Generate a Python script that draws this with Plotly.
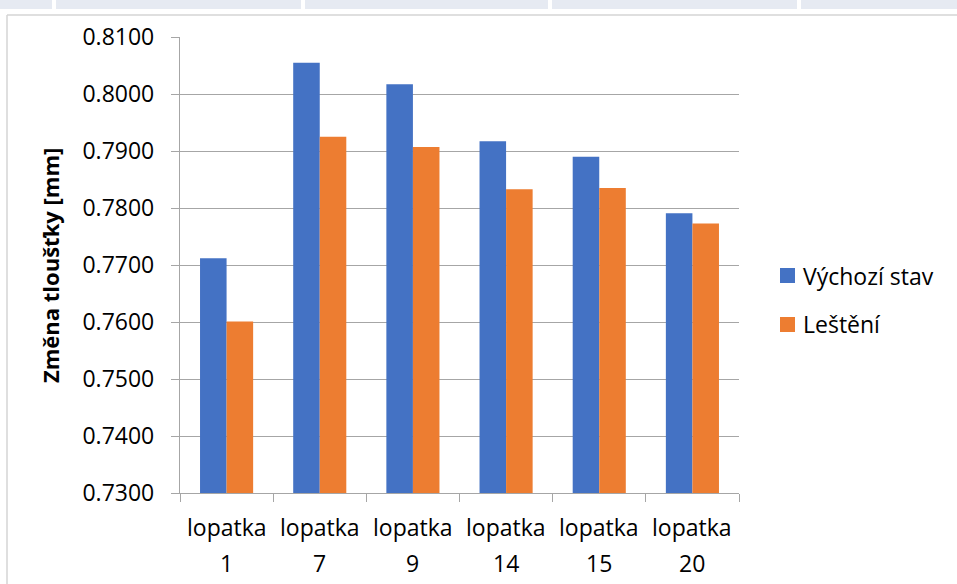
import plotly.graph_objects as go

# Blade thickness data (mm)
blades = ["1", "7", "9", "14", "15", "20"]
blade_word = "lopatka"
categories = [f"{blade_word} {b}" for b in blades]
series_names = ["Výchozí stav", "Leštění"]
initial_state = [0.7712, 0.8055, 0.8017, 0.7917, 0.7890, 0.7791]
polished = [0.7601, 0.7925, 0.7907, 0.7833, 0.7835, 0.7773]
series_colors = ["#4472C4", "#ED7D31"]
y_title = "Změna tloušťky [mm]"

W, H = 957, 584
ML, MR, MT, MB = 180, 218, 37, 91
PW, PH = W - ML - MR, H - MT - MB
FONT = "Open Sans"
FS = 23
GRID = "#a6a6a6"


def px(xp):
    return (xp - ML) / PW


def py(yp):
    return (H - MB - yp) / PH


fig = go.Figure()
for name, vals, col in zip(series_names, [initial_state, polished], series_colors):
    fig.add_trace(go.Bar(
        x=categories, y=vals, name=name,
        marker=dict(color=col, line=dict(width=0)),
        showlegend=False,
    ))

shapes = []
annotations = []

# frame around the chart object
shapes.append(dict(type="line", xref="paper", yref="paper",
                   x0=px(7), x1=px(W + 5), y0=py(15), y1=py(15),
                   line=dict(color="#d4d4d4", width=1.5)))
shapes.append(dict(type="line", xref="paper", yref="paper",
                   x0=px(7), x1=px(7), y0=py(15), y1=py(H + 5),
                   line=dict(color="#d4d4d4", width=1.5)))

# header strip above the frame
for x0, x1 in [(0, 52), (56, 301), (305, 548), (552, 797), (801, W)]:
    shapes.append(dict(type="rect", xref="paper", yref="paper",
                       x0=px(x0), x1=px(x1), y0=py(0), y1=py(9),
                       fillcolor="#e6eaf2", line=dict(width=0), layer="below"))

# category labels on two lines
for cat, b in zip(categories, blades):
    annotations.append(dict(x=cat, xref="x", y=py(527), yref="paper",
                            text=blade_word, showarrow=False,
                            xanchor="center", yanchor="middle",
                            font=dict(family=FONT, size=FS, color="#000")))
    annotations.append(dict(x=cat, xref="x", y=py(563), yref="paper",
                            text=b, showarrow=False,
                            xanchor="center", yanchor="middle",
                            font=dict(family=FONT, size=FS, color="#000")))

# y-axis title
annotations.append(dict(x=px(50), y=py(266), xref="paper", yref="paper",
                        text=f"<b>{y_title}</b>", textangle=-90, showarrow=False,
                        xanchor="center", yanchor="middle",
                        font=dict(family=FONT, size=22, color="#000")))

# legend
for i, (name, col) in enumerate(zip(series_names, series_colors)):
    top = 268 + i * 49
    shapes.append(dict(type="rect", xref="paper", yref="paper",
                       x0=px(780), x1=px(795), y0=py(top), y1=py(top + 15),
                       fillcolor=col, line=dict(width=0)))
    annotations.append(dict(x=px(801), y=py(top + 7.5), xref="paper", yref="paper",
                            text=name, showarrow=False,
                            xanchor="left", yanchor="middle",
                            font=dict(family=FONT, size=FS, color="#000")))

fig.update_layout(
    width=W, height=H,
    margin=dict(l=ML, r=MR, t=MT, b=MB, pad=0),
    paper_bgcolor="white", plot_bgcolor="white",
    barmode="group", bargap=0.43, bargroupgap=0,
    font=dict(family=FONT, size=FS, color="#000"),
    shapes=shapes, annotations=annotations,
    showlegend=False,
)
fig.update_xaxes(
    type="category", range=[-0.5, len(categories) - 0.5],
    showticklabels=False, showgrid=False,
    showline=True, linecolor=GRID, linewidth=1.3,
    ticks="outside", tickson="boundaries", ticklen=8,
    tickcolor=GRID, tickwidth=1.3,
)
fig.update_yaxes(
    range=[0.73, 0.81], dtick=0.01, tick0=0.73, tickformat=".4f",
    showgrid=True, gridcolor=GRID, gridwidth=1.3,
    showline=True, linecolor=GRID, linewidth=1.3,
    ticks="outside", ticklen=8, tickcolor=GRID, tickwidth=1.3,
    ticklabelstandoff=12, zeroline=False,
    tickfont=dict(family=FONT, size=FS, color="#000"),
)

fig.write_html("out.html")
